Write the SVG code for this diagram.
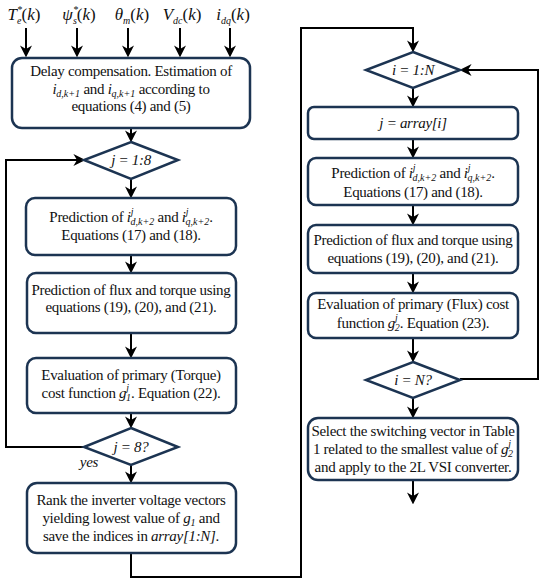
<svg xmlns="http://www.w3.org/2000/svg" width="550" height="583" viewBox="0 0 550 583" font-family="Liberation Serif, Times New Roman, serif">
<defs>
<marker id="ah" markerUnits="userSpaceOnUse" markerWidth="12" markerHeight="12" refX="8" refY="5" orient="auto" viewBox="0 0 10 10">
<path d="M0,0 L10,5 L0,10 L3,5 z" fill="#000"/>
</marker>
<style>
.box{fill:#fff;stroke:#1c3452;stroke-width:2.5}
.arr{fill:none;stroke:#000;stroke-width:2;marker-end:url(#ah)}
.t{font-size:15px;letter-spacing:-0.3px;fill:#111;text-anchor:middle}
.m{font-style:italic}
.s{font-style:italic;font-size:10px;letter-spacing:0}
.in{font-size:17px;fill:#111;text-anchor:middle}
</style>
</defs>

<g id="inputs">
<text class="in" x="24" y="20"><tspan class="m">T</tspan><tspan class="s" font-size="11" dy="-7">*</tspan><tspan class="s" font-size="11" dx="-5" dy="11">e</tspan><tspan dy="-4">(</tspan><tspan class="m">k</tspan>)</text>
<text class="in" x="79" y="20"><tspan class="m">ψ</tspan><tspan class="s" font-size="11" dy="-7">*</tspan><tspan class="s" font-size="11" dx="-5" dy="11">s</tspan><tspan dy="-4">(</tspan><tspan class="m">k</tspan>)</text>
<text class="in" x="132" y="20"><tspan class="m">θ</tspan><tspan class="s" font-size="11" dy="4">m</tspan><tspan dy="-4">(</tspan><tspan class="m">k</tspan>)</text>
<text class="in" x="182" y="20"><tspan class="m">V</tspan><tspan class="s" font-size="11" dy="4">dc</tspan><tspan dy="-4">(</tspan><tspan class="m">k</tspan>)</text>
<text class="in" x="233" y="20"><tspan class="m">i</tspan><tspan class="s" font-size="11" dy="4">dq</tspan><tspan dy="-4">(</tspan><tspan class="m">k</tspan>)</text>
</g>

<g id="connectors">
<line class="arr" x1="26" y1="28" x2="26" y2="55"/>
<line class="arr" x1="77" y1="28" x2="77" y2="55"/>
<line class="arr" x1="128" y1="28" x2="128" y2="55"/>
<line class="arr" x1="180" y1="28" x2="180" y2="55"/>
<line class="arr" x1="230" y1="28" x2="230" y2="55"/>
<line class="arr" x1="131" y1="128" x2="131" y2="140"/>
<line class="arr" x1="131" y1="178" x2="131" y2="196"/>
<line class="arr" x1="131" y1="255" x2="131" y2="271"/>
<line class="arr" x1="131" y1="333" x2="131" y2="356"/>
<line class="arr" x1="131" y1="413" x2="131" y2="426"/>
<line class="arr" x1="131" y1="465" x2="131" y2="481"/>
<polyline class="arr" points="85,447 6,447 6,160 83,160"/>
<polyline class="arr" points="131,553 131,577 301,577 301,28 413,28 413,50"/>
<line class="arr" x1="413" y1="87" x2="413" y2="105"/>
<line class="arr" x1="413" y1="139" x2="413" y2="156"/>
<line class="arr" x1="413" y1="205" x2="413" y2="223"/>
<line class="arr" x1="413" y1="273" x2="413" y2="291"/>
<line class="arr" x1="413" y1="338" x2="413" y2="360"/>
<line class="arr" x1="413" y1="398" x2="413" y2="416"/>
<polyline class="arr" points="460,379 538,379 538,70 462,70"/>
<line class="arr" x1="413" y1="480" x2="413" y2="502"/>
</g>

<g id="delay">
<rect class="box" x="12" y="58" width="238" height="70" rx="10"/>
<text class="t" x="131" y="76">Delay compensation. Estimation of</text>
<text class="t" x="131" y="94"><tspan class="m">i</tspan><tspan class="s" dy="3">d,k+1</tspan><tspan dy="-3"> and </tspan><tspan class="m">i</tspan><tspan class="s" dy="3">q,k+1</tspan><tspan dy="-3"> according to</tspan></text>
<text class="t" x="131" y="111">equations (4) and (5)</text>
</g>

<g id="loop-j">
<polygon class="box" points="131,142 178,160 131,179 84,160"/>
<text class="t m" x="131" y="165">j = 1:8</text>
</g>

<g id="pred-current-left">
<rect class="box" x="26" y="198" width="210" height="57" rx="9"/>
<text class="t" x="131" y="222">Prediction of <tspan class="m">i</tspan><tspan class="s" dy="-7">j</tspan><tspan class="s" dx="-3" dy="10">d,k+2</tspan><tspan dy="-3"> and </tspan><tspan class="m">i</tspan><tspan class="s" dy="-7">j</tspan><tspan class="s" dx="-3" dy="10">q,k+2</tspan><tspan dy="-3">.</tspan></text>
<text class="t" x="131" y="240">Equations (17) and (18).</text>
</g>

<g id="pred-flux-left">
<rect class="box" x="27" y="273" width="209" height="60" rx="9"/>
<text class="t" x="131" y="295">Prediction of flux and torque using</text>
<text class="t" x="131" y="312">equations (19), (20), and (21).</text>
</g>

<g id="eval-torque">
<rect class="box" x="27" y="358" width="209" height="55" rx="9"/>
<text class="t" x="131" y="380">Evaluation of primary (Torque)</text>
<text class="t" x="131" y="398">cost function <tspan class="m">g</tspan><tspan class="s" dy="-7">j</tspan><tspan class="s" dx="-3" dy="10">1</tspan><tspan dy="-3">. Equation (22).</tspan></text>
</g>

<g id="check-j">
<polygon class="box" points="131,428 178,447 131,465 84,447"/>
<text class="t m" x="131" y="452">j = 8?</text>
<text class="t m" x="89" y="467">yes</text>
</g>

<g id="rank">
<rect class="box" x="27" y="483" width="209" height="70" rx="10"/>
<text class="t" x="131" y="505">Rank the inverter voltage vectors</text>
<text class="t" x="131" y="523">yielding lowest value of <tspan class="m">g</tspan><tspan class="s" dy="3">1</tspan><tspan dy="-3"> and</tspan></text>
<text class="t" x="131" y="541">save the indices in <tspan class="m">array[1:N]</tspan>.</text>
</g>

<g id="loop-i">
<polygon class="box" points="413,52 460,70 413,88 366,70"/>
<text class="t m" x="413" y="75">i = 1:N</text>
</g>

<g id="assign">
<rect class="box" x="308" y="107" width="210" height="32" rx="6"/>
<text class="t m" x="413" y="128">j = array[i]</text>
</g>

<g id="pred-current-right">
<rect class="box" x="308" y="158" width="210" height="47" rx="8"/>
<text class="t" x="413" y="178">Prediction of <tspan class="m">i</tspan><tspan class="s" dy="-7">j</tspan><tspan class="s" dx="-3" dy="10">d,k+2</tspan><tspan dy="-3"> and </tspan><tspan class="m">i</tspan><tspan class="s" dy="-7">j</tspan><tspan class="s" dx="-3" dy="10">q,k+2</tspan><tspan dy="-3">.</tspan></text>
<text class="t" x="413" y="197">Equations (17) and (18).</text>
</g>

<g id="pred-flux-right">
<rect class="box" x="308" y="225" width="210" height="48" rx="8"/>
<text class="t" x="413" y="245">Prediction of flux and torque using</text>
<text class="t" x="413" y="263">equations (19), (20), and (21).</text>
</g>

<g id="eval-flux">
<rect class="box" x="308" y="293" width="210" height="45" rx="8"/>
<text class="t" x="413" y="309">Evaluation of primary (Flux) cost</text>
<text class="t" x="413" y="328">function <tspan class="m">g</tspan><tspan class="s" dy="-7">j</tspan><tspan class="s" dx="-3" dy="10">2</tspan><tspan dy="-3">. Equation (23).</tspan></text>
</g>

<g id="check-i">
<polygon class="box" points="413,362 460,380 413,398 366,380"/>
<text class="t m" x="413" y="385">i = N?</text>
</g>

<g id="select">
<rect class="box" x="308" y="418" width="210" height="62" rx="10"/>
<text class="t" x="413" y="436">Select the switching vector in Table</text>
<text class="t" x="413" y="454">1 related to the smallest value of <tspan class="m">g</tspan><tspan class="s" dy="-7">j</tspan><tspan class="s" dx="-3" dy="10">2</tspan></text>
<text class="t" x="413" y="472">and apply to the 2L VSI converter.</text>
</g>
</svg>
